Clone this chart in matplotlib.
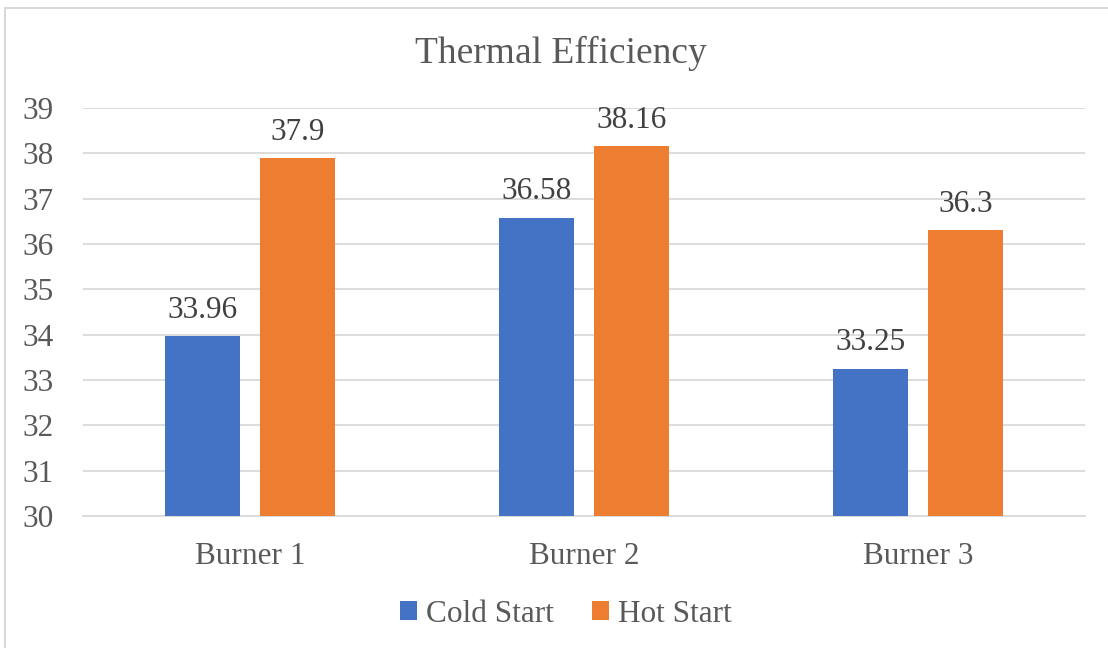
import matplotlib
matplotlib.use('Agg')
import matplotlib.pyplot as plt
from matplotlib.patches import Rectangle
import numpy as np

plt.rcParams['font.family'] = ['Liberation Serif', 'DejaVu Serif']

categories = ['Burner 1', 'Burner 2', 'Burner 3']
cold_start = [33.96, 36.58, 33.25]
hot_start = [37.9, 38.16, 36.3]
cold_labels = ['33.96', '36.58', '33.25']
hot_labels = ['37.9', '38.16', '36.3']

W, H = 1108, 648
fig = plt.figure(figsize=(W / 100, H / 100), dpi=100)
ax = fig.add_axes([83 / W, 1 - 516 / H, (1085 - 83) / W, (516 - 108) / H])

# chart-area border, clipped by the image on right and bottom
fig.patches.append(Rectangle((5 / W, -0.1), 1.2, 1 - 8 / H + 0.1, transform=fig.transFigure,
                             fill=False, edgecolor='#D9D9D9', linewidth=1.5, zorder=0))

x = np.arange(len(categories))
bw = 0.225
off = 0.142
b1 = ax.bar(x - off, np.array(cold_start) - 30, bw, bottom=30, color='#4472C4', label='Cold Start', zorder=3)
b2 = ax.bar(x + off, np.array(hot_start) - 30, bw, bottom=30, color='#ED7D31', label='Hot Start', zorder=3)

txt = '#404040'
for i in range(len(categories)):
    ax.text(x[i] - off, cold_start[i] + 0.25, cold_labels[i], ha='center', va='bottom', fontsize=22.5, color=txt)
    ax.text(x[i] + off, hot_start[i] + 0.25, hot_labels[i], ha='center', va='bottom', fontsize=22.5, color=txt)

ax.set_xlim(-0.5, 2.5)
ax.set_ylim(30, 39)
ax.set_yticks(range(30, 40))
ax.set_xticks(x)
ax.set_xticklabels(categories)
ax.yaxis.grid(True, color='#D9D9D9', linewidth=1.3, zorder=0)
ax.set_axisbelow(True)
for s in ['top', 'right', 'left']:
    ax.spines[s].set_visible(False)
ax.spines['bottom'].set_color('#D9D9D9')
ax.spines['bottom'].set_linewidth(1.3)
ax.tick_params(axis='both', length=0, labelsize=22.5, labelcolor='#595959')
ax.tick_params(axis='y', pad=21)
ax.tick_params(axis='x', pad=19)

fig.text(561 / W, 1 - 53 / H, 'Thermal Efficiency', ha='center', va='center', fontsize=27, color='#595959')

leg = fig.legend(handles=[b1, b2], loc='center', bbox_to_anchor=(566 / W, 1 - 614 / H), ncol=2,
                 frameon=False, fontsize=22.5, handlelength=0.55, handleheight=0.55,
                 handletextpad=0.3, columnspacing=1.2)
for t in leg.get_texts():
    t.set_color('#595959')

fig.savefig('out.png', dpi=100)
